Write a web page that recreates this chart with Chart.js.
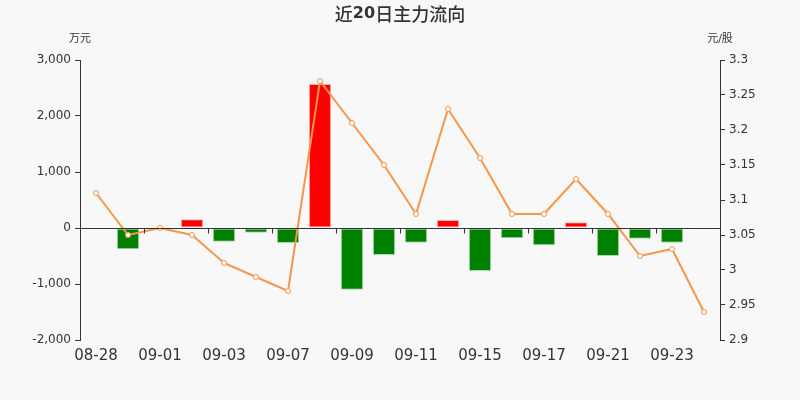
<!DOCTYPE html>
<html>
<head>
<meta charset="utf-8">
<script src="https://cdn.jsdelivr.net/npm/chart.js@4/dist/chart.umd.min.js"></script>
<style>
    html, body { margin: 0; padding: 0; background: #f8f8f8; }
    #wrap { width: 800px; height: 400px; }
</style>
</head>
<body>
<div id="wrap"><canvas id="myChart" width="800" height="400"></canvas></div>
<script>
const dates = ['08-28', '08-31', '09-01', '09-02', '09-03', '09-04', '09-07', '09-08', '09-09', '09-10',
    '09-11', '09-14', '09-15', '09-16', '09-17', '09-18', '09-21', '09-22', '09-23', '09-24'];
// main money flow, 万元
const flow = [-15, -380, -5, 155, -245, -84, -268, 2571, -1101, -482,
    -262, 143, -768, -184, -309, 102, -500, -190, -262, -24];
// closing price, 元/股
const price = [3.11, 3.05, 3.06, 3.05, 3.01, 2.99, 2.97, 3.27, 3.21, 3.15,
    3.08, 3.23, 3.16, 3.08, 3.08, 3.13, 3.08, 3.02, 3.03, 2.94];

const textColor = '#333333';
const font = 'DejaVu Sans';

const barColors = flow.map(v => v >= 0 ? '#ff0000' : '#008000');
const barBorders = flow.map(v => v >= 0 ? '#ffb3b3' : '#a8dca8');

// title parts: digits are bold, the chinese text is not
const titleParts = [
    { text: '近', font: '500 18px "Noto Sans CJK SC"' },
    { text: '20', font: 'bold 16px "DejaVu Sans"' },
    { text: '日主力流向', font: '500 18px "Noto Sans CJK SC"' }
];

// background, title, axis names and small ticks on the zero line
const decorations = {
    id: 'decorations',
    beforeDraw(chart) {
        const ctx = chart.ctx;
        ctx.save();
        ctx.fillStyle = '#f8f8f8';
        ctx.fillRect(0, 0, chart.width, chart.height);
        ctx.restore();
    },
    afterDatasetsDraw(chart) {
        const ctx = chart.ctx;
        const x = chart.scales.x;
        const y = chart.scales.y;
        ctx.save();
        ctx.strokeStyle = textColor;
        ctx.lineWidth = 1;
        const zero = Math.round(y.getPixelForValue(0)) + 0.5;
        ctx.beginPath();
        ctx.moveTo(chart.chartArea.left, zero);
        ctx.lineTo(chart.chartArea.right, zero);
        for (let i = 2; i < dates.length; i += 2) {
            const px = Math.round((x.getPixelForValue(i - 1) + x.getPixelForValue(i)) / 2) + 0.5;
            ctx.moveTo(px, zero);
            ctx.lineTo(px, zero + 5);
        }
        ctx.stroke();

        ctx.fillStyle = textColor;
        ctx.textBaseline = 'middle';
        ctx.textAlign = 'left';
        let total = 0;
        titleParts.forEach(p => {
            ctx.font = p.font;
            p.width = ctx.measureText(p.text).width;
            total += p.width;
        });
        let tx = chart.width / 2 - total / 2;
        titleParts.forEach(p => {
            ctx.font = p.font;
            ctx.fillText(p.text, tx, 14);
            tx += p.width;
        });

        ctx.textAlign = 'center';
        ctx.font = '11px "' + font + '", "Noto Sans CJK SC"';
        ctx.fillText('万元', chart.chartArea.left, 39);
        ctx.fillText('元/股', chart.chartArea.right, 39);
        ctx.restore();
    }
};

const canvas = document.getElementById('myChart');
new Chart(canvas, {
    data: {
        labels: dates,
        datasets: [{
            type: 'line',
            label: '股价',
            data: price,
            yAxisID: 'y1',
            borderColor: '#f5964b',
            borderWidth: 2,
            pointRadius: 2.5,
            pointBorderWidth: 1,
            pointBackgroundColor: '#ffffff',
            pointBorderColor: '#f5964b',
            tension: 0,
            order: 0
        }, {
            type: 'bar',
            label: '主力流向',
            data: flow,
            yAxisID: 'y',
            backgroundColor: barColors,
            borderColor: barBorders,
            borderWidth: 1,
            borderSkipped: false,
            barPercentage: 0.7,
            categoryPercentage: 1,
            order: 1
        }]
    },
    options: {
        responsive: false,
        animation: false,
        layout: { padding: { top: 60, left: 0, right: 0, bottom: 0 } },
        plugins: {
            legend: { display: false },
            title: { display: false },
            tooltip: { enabled: false }
        },
        scales: {
            x: {
                offset: true,
                border: { display: false },
                grid: { display: false, drawTicks: false },
                ticks: {
                    autoSkip: false,
                    maxRotation: 0,
                    padding: 7,
                    color: textColor,
                    font: { family: font, size: 15 },
                    callback: function (value, index) {
                        return index % 2 === 0 ? dates[index] : '';
                    }
                },
                afterFit: scale => { scale.height = 60; }
            },
            y: {
                position: 'left',
                min: -2000,
                max: 3000,
                border: { display: true, color: textColor },
                grid: { drawOnChartArea: false, tickLength: 5, tickColor: textColor },
                ticks: {
                    stepSize: 1000,
                    padding: 4,
                    color: textColor,
                    font: { family: font, size: 12 }
                },
                afterFit: scale => { scale.width = 80; }
            },
            y1: {
                position: 'right',
                min: 2.9,
                max: 3.3,
                border: { display: true, color: textColor },
                grid: { drawOnChartArea: false, tickLength: 5, tickColor: textColor },
                ticks: {
                    stepSize: 0.05,
                    padding: 4,
                    color: textColor,
                    font: { family: font, size: 12 },
                    callback: v => String(Math.round(v * 100) / 100)
                },
                afterFit: scale => { scale.width = 80; }
            }
        }
    },
    plugins: [decorations]
});
</script>
</body>
</html>
